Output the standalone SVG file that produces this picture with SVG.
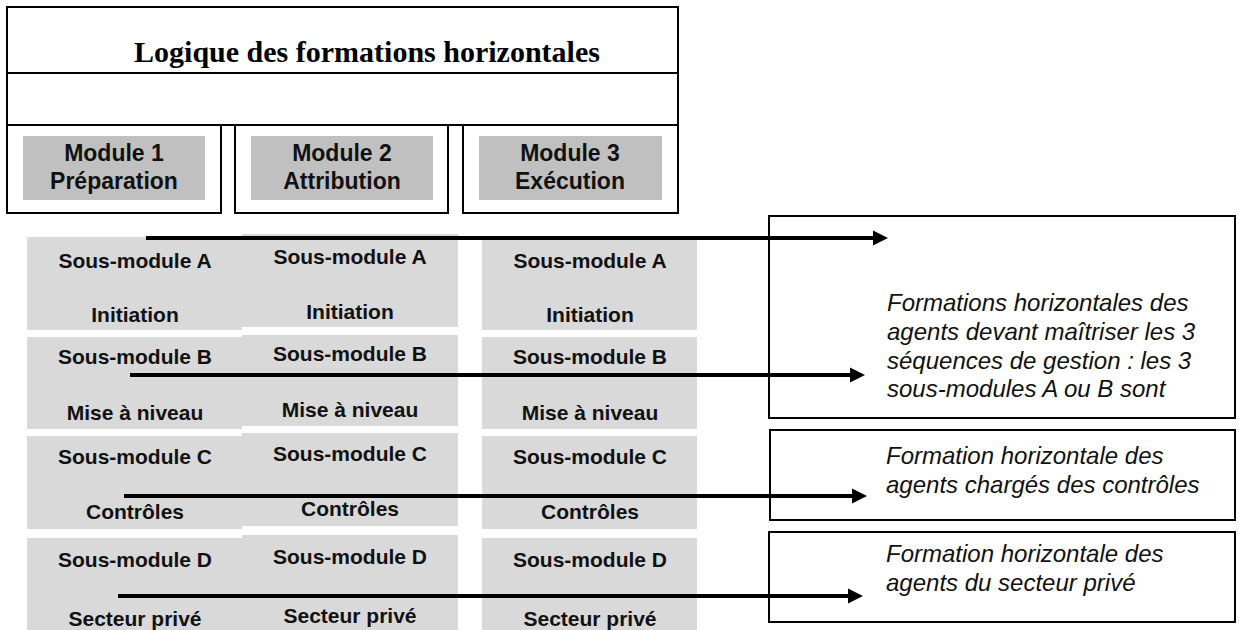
<svg xmlns="http://www.w3.org/2000/svg" width="1239" height="630" viewBox="0 0 1239 630">
<style>
.box{fill:#fff;stroke:#000;stroke-width:2}
.mod{fill:#c0c0c0}
.cell{fill:#d9d9d9}
.title{font-family:"Liberation Serif","Times New Roman",serif;font-weight:bold;font-size:30px;fill:#000;text-anchor:middle}
.mt{font-family:"Liberation Sans",Arial,sans-serif;font-weight:bold;font-size:23px;fill:#111;text-anchor:middle}
.ct{font-family:"Liberation Sans",Arial,sans-serif;font-weight:bold;font-size:21px;fill:#111;text-anchor:middle}
.it{font-family:"Liberation Sans",Arial,sans-serif;font-style:italic;font-size:24px;fill:#111}
.arr{stroke:#000;stroke-width:4;fill:none;marker-end:url(#ah)}
</style>
<defs>
<marker id="ah" markerUnits="userSpaceOnUse" markerWidth="16" markerHeight="16" refX="3" refY="8" orient="auto">
<path d="M0,0.5 L15,8 L0,15.5 z" fill="#000"/>
</marker>
</defs>
<rect width="1239" height="630" fill="#fff"/>

<g id="header">
<rect class="box" x="7" y="7" width="671" height="118"/>
<line x1="7" y1="73" x2="678" y2="73" stroke="#000" stroke-width="2"/>
<text class="title" x="367" y="62">Logique des formations horizontales</text>
</g>

<g id="module1">
<rect class="box" x="7" y="125" width="214" height="88"/>
<rect class="mod" x="23" y="136" width="182" height="64"/>
<text class="mt" x="114" y="161">Module 1</text>
<text class="mt" x="114" y="189">Préparation</text>
</g>
<g id="module2">
<rect class="box" x="235" y="125" width="213" height="88"/>
<rect class="mod" x="251" y="136" width="182" height="64"/>
<text class="mt" x="342" y="161">Module 2</text>
<text class="mt" x="342" y="189">Attribution</text>
</g>
<g id="module3">
<rect class="box" x="463" y="125" width="215" height="88"/>
<rect class="mod" x="479" y="136" width="183" height="64"/>
<text class="mt" x="570" y="161">Module 3</text>
<text class="mt" x="570" y="189">Exécution</text>
</g>

<g id="c1A"><rect class="cell" x="27" y="237" width="215" height="93"/><text class="ct" x="135" y="268">Sous-module A</text><text class="ct" x="135" y="322">Initiation</text></g>
<g id="c2A"><rect class="cell" x="242" y="234" width="216" height="93"/><text class="ct" x="350" y="264">Sous-module A</text><text class="ct" x="350" y="319">Initiation</text></g>
<g id="c3A"><rect class="cell" x="482" y="237" width="215" height="93"/><text class="ct" x="590" y="268">Sous-module A</text><text class="ct" x="590" y="322">Initiation</text></g>

<g id="c1B"><rect class="cell" x="27" y="337" width="215" height="92"/><text class="ct" x="135" y="364">Sous-module B</text><text class="ct" x="135" y="420">Mise à niveau</text></g>
<g id="c2B"><rect class="cell" x="242" y="335" width="216" height="91"/><text class="ct" x="350" y="361">Sous-module B</text><text class="ct" x="350" y="417">Mise à niveau</text></g>
<g id="c3B"><rect class="cell" x="482" y="337" width="215" height="92"/><text class="ct" x="590" y="364">Sous-module B</text><text class="ct" x="590" y="420">Mise à niveau</text></g>

<g id="c1C"><rect class="cell" x="27" y="436" width="215" height="93"/><text class="ct" x="135" y="464">Sous-module C</text><text class="ct" x="135" y="519">Contrôles</text></g>
<g id="c2C"><rect class="cell" x="242" y="433" width="216" height="93"/><text class="ct" x="350" y="461">Sous-module C</text><text class="ct" x="350" y="516">Contrôles</text></g>
<g id="c3C"><rect class="cell" x="482" y="436" width="215" height="93"/><text class="ct" x="590" y="464">Sous-module C</text><text class="ct" x="590" y="519">Contrôles</text></g>

<g id="c1D"><rect class="cell" x="27" y="538" width="215" height="92"/><text class="ct" x="135" y="567">Sous-module D</text><text class="ct" x="135" y="626">Secteur privé</text></g>
<g id="c2D"><rect class="cell" x="242" y="535" width="216" height="95"/><text class="ct" x="350" y="564">Sous-module D</text><text class="ct" x="350" y="623">Secteur privé</text></g>
<g id="c3D"><rect class="cell" x="482" y="538" width="215" height="92"/><text class="ct" x="590" y="567">Sous-module D</text><text class="ct" x="590" y="626">Secteur privé</text></g>

<g id="note1">
<rect class="box" x="769" y="216" width="466" height="202"/>
<text class="it" x="887" y="311">Formations horizontales des</text>
<text class="it" x="887" y="340">agents devant maîtriser les 3</text>
<text class="it" x="887" y="369">séquences de gestion : les 3</text>
<text class="it" x="887" y="397">sous-modules A ou B sont</text>
</g>
<g id="note2">
<rect class="box" x="770" y="430" width="465" height="90"/>
<text class="it" x="886" y="464">Formation horizontale des</text>
<text class="it" x="886" y="493">agents chargés des contrôles</text>
</g>
<g id="note3">
<rect class="box" x="769" y="532" width="466" height="90"/>
<text class="it" x="886" y="562">Formation horizontale des</text>
<text class="it" x="886" y="591">agents du secteur privé</text>
</g>

<g id="connectors">
<line class="arr" x1="146" y1="238" x2="876" y2="238"/>
<line class="arr" x1="130" y1="375" x2="853" y2="375"/>
<line class="arr" x1="124" y1="496" x2="855" y2="496"/>
<line class="arr" x1="118" y1="596" x2="851" y2="596"/>
</g>
</svg>
